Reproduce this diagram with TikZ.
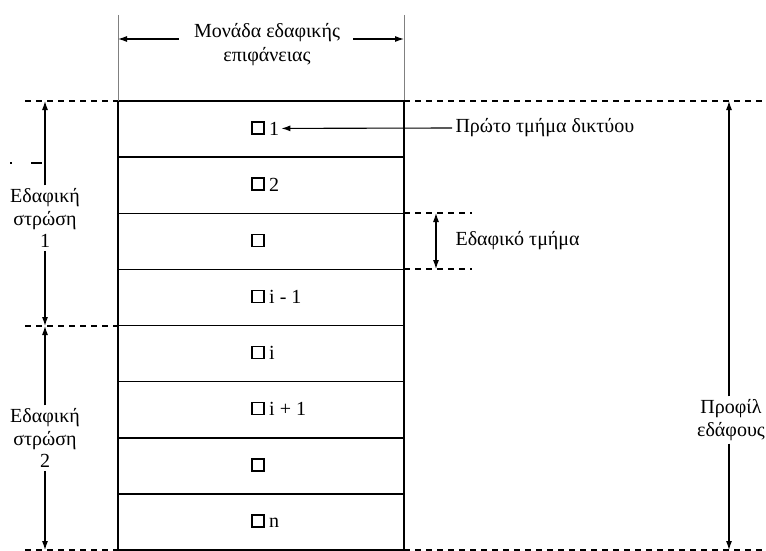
\documentclass[tikz,border=0pt]{standalone}
\usepackage{fontspec}
\setmainfont{Liberation Serif}
\usetikzlibrary{arrows.meta}

\begin{document}
\begin{tikzpicture}[x=1pt, y=-1pt, every node/.style={font=\fontsize{20}{22.5}\selectfont}, >={Latex[length=9pt,width=6pt]},
	rowline/.style={line width=1.5pt},
	guide/.style={gray, line width=0.5pt},
	dashline/.style={line width=1.1pt, dash pattern=on 6pt off 5pt},
	dimarrow/.style={line width=1.1pt}]
	\useasboundingbox (0,0) rectangle (766,551);
	% column of soil segments
	\foreach \lbl [count=\k] in {1,2,{},i - 1,i,i + 1,{},n} {
		\draw[rowline] (118,{101+56.125*(\k-1)}) rectangle (404,{101+56.125*\k});
		\node[draw, line width=1.5pt, minimum size=12pt, inner sep=0pt] (sq\k) at (258,{128+56.125*(\k-1)}) {};
		\node[anchor=base west, inner sep=2pt] (lab\k) at (267,{135+56.125*(\k-1)}) {\lbl};
	}
	% surface unit width
	\draw[guide] (118,15) -- (118,101);
	\draw[guide] (404,15) -- (404,101);
	\coordinate (gl) at (118,39);
	\coordinate (gr) at (404,39);
	\node (unitA) at (267,33) {Μονάδα εδαφικής};
	\node (unitB) at (267,57) {επιφάνειας};
	\draw[dimarrow, ->] ([xshift=-12pt]unitA.west |- gl) -- (gl);
	\draw[dimarrow, ->] ([xshift=10pt]unitA.east |- gr) -- (gr);
	% dashed boundaries
	\draw[dashline] (25,101) -- (118,101);
	\draw[dashline] (404,101) -- (766,101);
	\draw[dashline] (25,326) -- (118,326);
	\draw[dashline] (25,550) -- (118,550);
	\draw[dashline] (404,550) -- (766,550);
	\draw[dashline] (404,213) -- (472,213);
	\draw[dashline] (404,269) -- (472,269);
	\draw[line width=1.1pt, dash pattern=on 2pt off 19pt on 11pt] (10,163) -- (44,163);
	% soil layers
	\coordinate (l1t) at (45,101);
	\coordinate (l1b) at (45,326);
	\coordinate (l2b) at (45,550);
	\node[align=center, inner sep=3pt] (lay1) at (45,218) {Εδαφική\\στρώση\\1};
	\node[align=center, inner sep=3pt] (lay2) at (45,438) {Εδαφική\\στρώση\\2};
	\draw[dimarrow, ->] (lay1.north) -- (l1t);
	\draw[dimarrow, ->] (lay1.south) -- (l1b);
	\draw[dimarrow, ->] (lay2.north) -- (l1b);
	\draw[dimarrow, ->] (lay2.south) -- (l2b);
	% labels on the right
	\node[anchor=west] (first) at (452,128) {Πρώτο τμήμα δικτύου};
	\draw[dimarrow, ->] (first.west) -- (lab1.east);
	\coordinate (segt) at (436,213);
	\coordinate (segb) at (436,269);
	\draw[dimarrow, <->] (segt) -- (segb);
	\node[anchor=west] (seg) at (452,241) {Εδαφικό τμήμα};
	% soil profile
	\coordinate (prt) at (729,101);
	\coordinate (prb) at (729,550);
	\node[align=center, inner sep=3pt] (prof) at (731,420) {Προφίλ\\εδάφους};
	\draw[dimarrow, ->] (prof.north -| prt) -- (prt);
	\draw[dimarrow, ->] (prof.south -| prb) -- (prb);
\end{tikzpicture}
\end{document}
